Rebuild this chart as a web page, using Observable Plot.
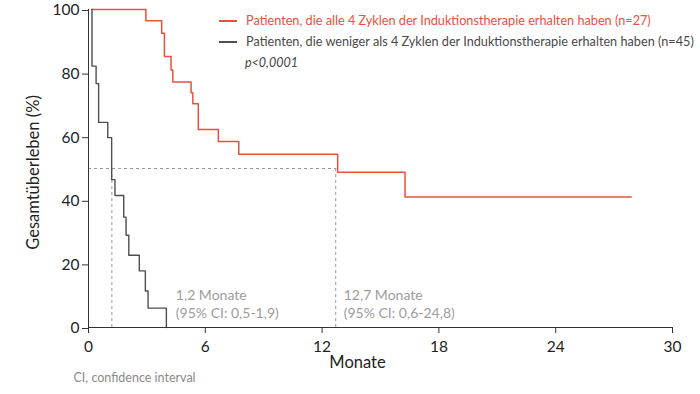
<!DOCTYPE html>
<html>
<head>
<meta charset="utf-8">
<script src="https://cdn.jsdelivr.net/npm/d3@7"></script>
<script src="https://cdn.jsdelivr.net/npm/@observablehq/plot@0.6"></script>
<style>
  body { margin: 0; background: #fff; }
  #wrap { position: relative; width: 700px; height: 394px; font-family: Lato, "Noto Sans", sans-serif; }
  #legend { position: absolute; left: 219px; top: 10px; width: max-content; font-size: 12.7px; line-height: 21px; }
  .row { display: flex; align-items: center; white-space: nowrap; }
  .sw { display: inline-block; width: 18px; height: 0; border-top: 2px solid; margin-right: 9px; }
  .p { font-style: italic; color: #444; font-size: 12.5px; padding-left: 26px; }
</style>
</head>
<body>
<div id="wrap"><div id="legend"></div></div>
<script>
// Data
const seriesNames = [
  "Patienten, die alle 4 Zyklen der Induktionstherapie erhalten haben (n=27)",
  "Patienten, die weniger als 4 Zyklen der Induktionstherapie erhalten haben (n=45)"
];
const redTimes = [0.17, 2.95, 3.76, 3.90, 4.24, 4.33, 5.27, 5.36, 5.64, 6.67, 7.72, 12.8, 16.26, 27.88];
const redSurv  = [100, 96.5, 92.5, 85.2, 81.0, 77.2, 73.8, 70.4, 62.3, 58.5, 54.5, 48.8, 41.0, 41.0];
const grayTimes = [0.17, 0.18, 0.39, 0.52, 0.99, 1.19, 1.36, 1.81, 1.93, 2.07, 2.61, 2.92, 3.06, 4.0];
const graySurv  = [100, 82.2, 76.7, 64.5, 59.7, 46.5, 41.5, 34.7, 29.0, 22.7, 17.8, 11.5, 6.1, 0];
const medians = [1.2, 12.7];
const medianLabels = [["1,2 Monate", "(95% CI: 0,5-1,9)"], ["12,7 Monate", "(95% CI: 0,6-24,8)"]];
const xTicks = [0, 6, 12, 18, 24, 30];
const yTicks = [0, 20, 40, 60, 80, 100];
const pText = "p<0,0001";
const xLabel = "Monate";
const yLabel = "Gesamtüberleben (%)";
const caption = "CI, confidence interval";

const colors = ["#e8513d", "#4f4f4f"];

const red = redTimes.map((t, i) => ({t, s: redSurv[i]}));
const gray = grayTimes.map((t, i) => ({t, s: graySurv[i]}));

// Legend (HTML)
const legend = document.getElementById("legend");
seriesNames.forEach((n, i) => {
  const r = document.createElement("div");
  r.className = "row";
  r.style.color = i === 0 ? colors[0] : "#4a4a4a";
  r.innerHTML = `<span class="sw" style="border-color:${colors[i]}"></span>${n}`;
  legend.appendChild(r);
});
const p = document.createElement("div");
p.className = "p"; p.textContent = pText;
legend.appendChild(p);

const annoGray = "#9d9d9d";
const chart = Plot.plot({
  width: 700,
  height: 394,
  marginTop: 9,
  marginBottom: 67,
  marginLeft: 88,
  marginRight: 28,
  style: {fontFamily: "Lato, 'Noto Sans', sans-serif", fontSize: "15px", color: "#222", background: "transparent", overflow: "visible"},
  x: {domain: [0, 30]},
  y: {domain: [0, 100]},
  marks: [
    // dashed median guides
    Plot.ruleY([50], {x1: 0, x2: medians[1], stroke: "#9a9a9a", strokeDasharray: "3,3", strokeWidth: 1}),
    Plot.ruleX(medians, {y1: 0, y2: 50, stroke: "#9a9a9a", strokeDasharray: "3,3", strokeWidth: 1}),
    // curves
    Plot.line(red, {x: "t", y: "s", curve: "step-after", stroke: colors[0], strokeWidth: 1.5}),
    Plot.line(gray, {x: "t", y: "s", curve: "step-after", stroke: colors[1], strokeWidth: 1.4}),
    // axes
    Plot.axisX({ticks: xTicks, tickSize: 6, tickPadding: 7, label: null, fontSize: 15.5, stroke: "#333"}),
    Plot.axisY({ticks: yTicks, tickSize: 6, tickPadding: 3, label: null, fontSize: 15.5, stroke: "#333", dy: 1}),
    Plot.ruleY([0], {stroke: "#333"}),
    Plot.ruleX([0], {stroke: "#333"}),
    // axis labels
    Plot.text([xLabel], {frameAnchor: "bottom", text: d => d, dx: -23, dy: 40, fontSize: 16.5, fill: "#222"}),
    Plot.text([yLabel], {frameAnchor: "left", textAnchor: "middle", text: d => d, rotate: -90, dx: -55, dy: 4, fontSize: 16.5, fill: "#222"}),
    // median annotations
    Plot.text([medianLabels[0][0]], {x: medians[0], y: 0, text: d => d, textAnchor: "start", dx: 64, dy: -32, fill: annoGray, fontSize: 14}),
    Plot.text([medianLabels[0][1]], {x: medians[0], y: 0, text: d => d, textAnchor: "start", dx: 64, dy: -14, fill: annoGray, fontSize: 14}),
    Plot.text([medianLabels[1][0]], {x: medians[1], y: 0, text: d => d, textAnchor: "start", dx: 8, dy: -32, fill: annoGray, fontSize: 14}),
    Plot.text([medianLabels[1][1]], {x: medians[1], y: 0, text: d => d, textAnchor: "start", dx: 8, dy: -14, fill: annoGray, fontSize: 14}),
    // caption
    Plot.text([caption], {frameAnchor: "bottom-left", text: d => d, textAnchor: "start", dx: -15, dy: 54, fill: "#8a8a8a", fontSize: 12.5})
  ]
});
document.getElementById("wrap").insertBefore(chart, legend);
</script>
</body>
</html>
